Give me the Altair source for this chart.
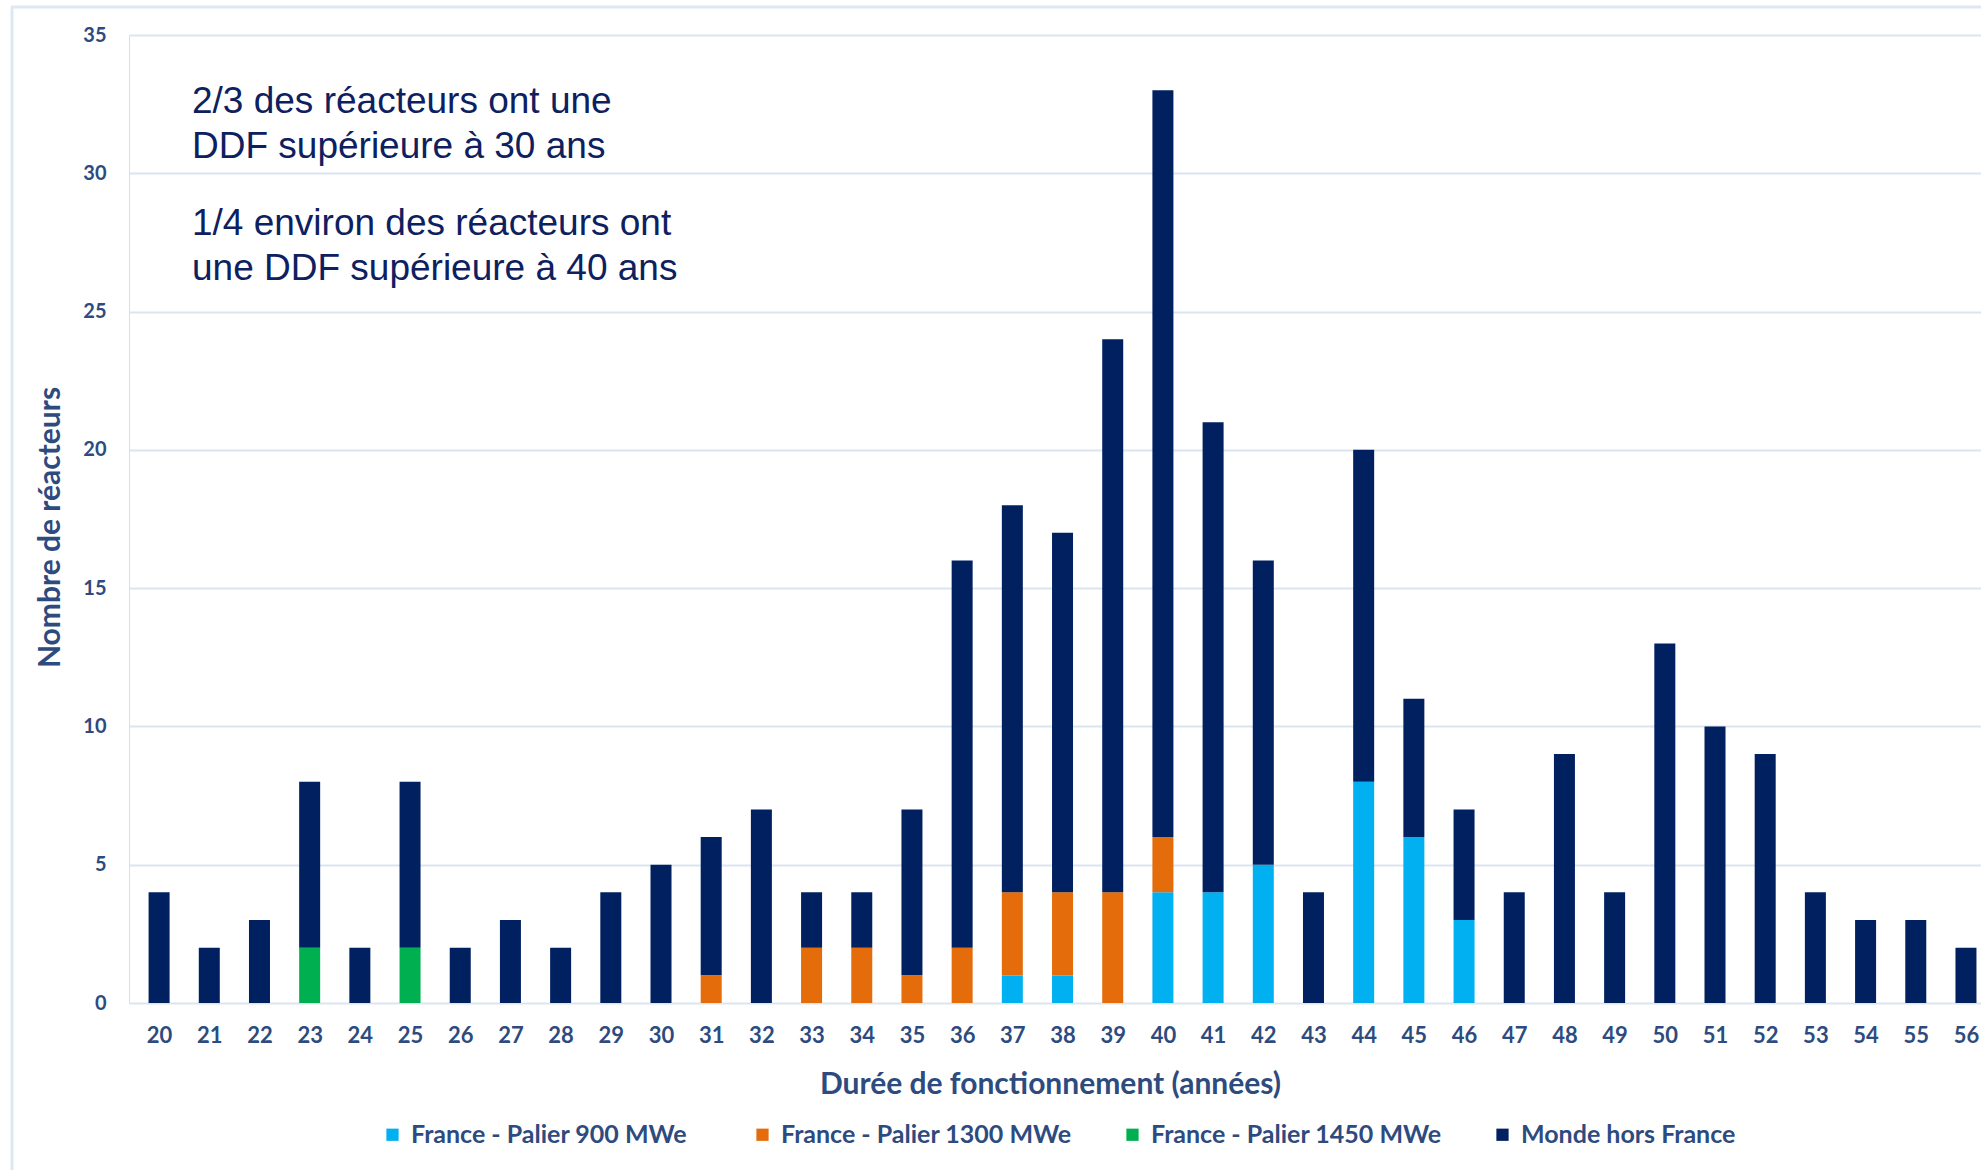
import altair as alt
import pandas as pd

# ---- data ----
ages = [20, 21, 22, 23, 24, 25, 26, 27, 28, 29, 30, 31, 32, 33, 34, 35, 36, 37, 38,
        39, 40, 41, 42, 43, 44, 45, 46, 47, 48, 49, 50, 51, 52, 53, 54, 55, 56]
palier_900 = [0, 0, 0, 0, 0, 0, 0, 0, 0, 0, 0, 0, 0, 0, 0, 0, 0, 1, 1,
              0, 4, 4, 5, 0, 8, 6, 3, 0, 0, 0, 0, 0, 0, 0, 0, 0, 0]
palier_1300 = [0, 0, 0, 0, 0, 0, 0, 0, 0, 0, 0, 1, 0, 2, 2, 1, 2, 3, 3,
               4, 2, 0, 0, 0, 0, 0, 0, 0, 0, 0, 0, 0, 0, 0, 0, 0, 0]
palier_1450 = [0, 0, 0, 2, 0, 2, 0, 0, 0, 0, 0, 0, 0, 0, 0, 0, 0, 0, 0,
               0, 0, 0, 0, 0, 0, 0, 0, 0, 0, 0, 0, 0, 0, 0, 0, 0, 0]
monde = [4, 2, 3, 6, 2, 6, 2, 3, 2, 4, 5, 5, 7, 2, 2, 6, 14, 14, 13,
         20, 27, 17, 11, 4, 12, 5, 4, 4, 9, 4, 13, 10, 9, 4, 3, 3, 2]

series_names = ["France - Palier 900 MWe", "France - Palier 1300 MWe",
                "France - Palier 1450 MWe", "Monde hors France"]
series_colors = ["#00B0F0", "#E46C0A", "#00B050", "#002060"]
y_ticks = [0, 5, 10, 15, 20, 25, 30, 35]

annotation_1 = "2/3 des réacteurs ont une\nDDF supérieure à 30 ans"
annotation_2 = "1/4 environ des réacteurs ont\nune DDF supérieure à 40 ans"

rows = []
for k, (name, vals) in enumerate(zip(series_names, [palier_900, palier_1300, palier_1450, monde])):
    for a, v in zip(ages, vals):
        if v > 0:
            rows.append({"age": a, "serie": name, "n": v, "rank": k})
df = pd.DataFrame(rows)

W, H = 1852, 968
LABEL_COLOR = "#2d4b7e"
GRID_COLOR = "#dae5f2"
FONT = "Lato"

bars = alt.Chart(df).mark_bar(size=21).encode(
    x=alt.X("age:Q",
            scale=alt.Scale(domain=[19.5, 56.2], nice=False, zero=False),
            axis=alt.Axis(values=ages, format="d", title="Durée de fonctionnement (années)",
                          grid=False, ticks=False, domain=False, labelPadding=22,
                          labelFont=FONT, labelFontSize=22, labelFontWeight="bold",
                          labelColor=LABEL_COLOR, labelFlush=False,
                          titleFont=FONT, titleFontSize=30, titleFontWeight="bold",
                          titleColor=LABEL_COLOR, titleX=921, titleY=81,
                          titleAlign="center", titleBaseline="middle")),
    y=alt.Y("n:Q", stack="zero",
            scale=alt.Scale(domain=[0, 35], nice=False),
            axis=alt.Axis(values=y_ticks, title="Nombre de réacteurs",
                          grid=True, gridColor=GRID_COLOR, gridWidth=2,
                          ticks=False, domain=False, labelPadding=23,
                          labelFont=FONT, labelFontSize=20, labelFontWeight="bold",
                          labelColor=LABEL_COLOR,
                          titleFont=FONT, titleFontSize=30, titleFontWeight="bold",
                          titleColor=LABEL_COLOR, titleX=-79, titleY=492,
                          titleAngle=270, titleAlign="center", titleBaseline="middle")),
    color=alt.Color("serie:N",
                    scale=alt.Scale(domain=series_names, range=series_colors),
                    legend=alt.Legend(title=None, orient="none", legendX=251, legendY=1087,
                                      direction="horizontal", columns=4, gridAlign="all",
                                      columnPadding=48, symbolType="square", symbolSize=150,
                                      symbolStrokeWidth=0, labelOffset=6,
                                      labelFont=FONT, labelFontSize=25, labelFontWeight="bold",
                                      labelColor=LABEL_COLOR, labelLimit=0)),
    order=alt.Order("rank:Q", sort="ascending"),
)

text1 = alt.Chart(pd.DataFrame({"t": [annotation_1]})).mark_text(
    align="left", baseline="alphabetic", font="Liberation Sans", fontSize=37,
    color="#0d2060", lineBreak="\n", lineHeight=45
).encode(x=alt.value(63), y=alt.value(78), text="t:N")

text2 = alt.Chart(pd.DataFrame({"t": [annotation_2]})).mark_text(
    align="left", baseline="alphabetic", font="Liberation Sans", fontSize=37,
    color="#0d2060", lineBreak="\n", lineHeight=45
).encode(x=alt.value(63), y=alt.value(200), text="t:N")

frame_left = alt.Chart(pd.DataFrame({"k": [0]})).mark_rule(
    color="#dde8f5", strokeWidth=3
).encode(x=alt.value(-117), y=alt.value(-28), y2=alt.value(1140))

frame_top = alt.Chart(pd.DataFrame({"k": [0]})).mark_rule(
    color="#dde8f5", strokeWidth=3
).encode(x=alt.value(-118), x2=alt.value(1860), y=alt.value(-28))

chart = alt.layer(frame_left, frame_top, bars, text1, text2).properties(
    width=W, height=H,
    autosize=alt.AutoSizeParams(type="none"),
    padding={"left": 129, "top": 35, "right": 0, "bottom": 167},
).configure_view(stroke=None).configure(background="white")

chart.save("out.html", embed_options={"renderer": "svg", "actions": False})
